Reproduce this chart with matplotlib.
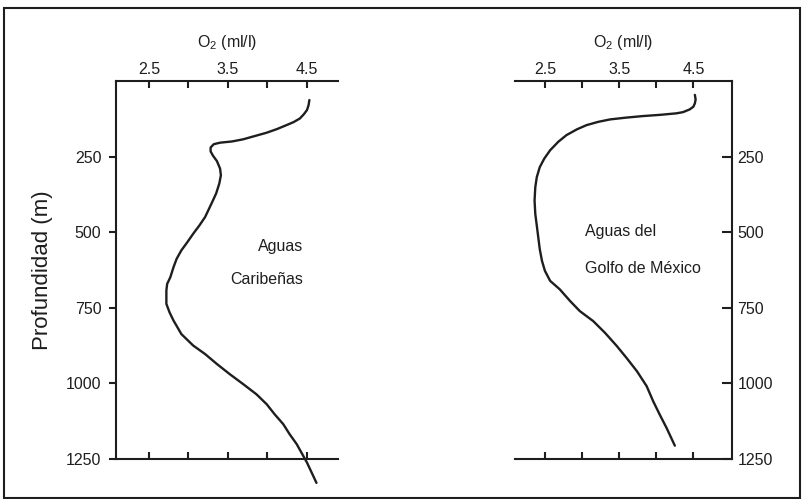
import matplotlib
matplotlib.use("Agg")
import matplotlib.pyplot as plt
from matplotlib.patches import Rectangle

plt.rcParams['font.family'] = ['Liberation Sans', 'DejaVu Sans']
plt.rcParams['mathtext.fontset'] = 'custom'
plt.rcParams['mathtext.rm'] = 'Liberation Sans'
plt.rcParams['mathtext.default'] = 'regular'

# Oxygen profile, Caribbean waters (O2 ml/l vs depth m)
carib_o2 = [4.53, 4.52, 4.50, 4.46, 4.41, 4.33, 4.24, 4.12, 3.99, 3.84, 3.69, 3.55,
            3.40, 3.32, 3.28, 3.28, 3.31, 3.36, 3.40, 3.41, 3.39, 3.35, 3.29, 3.21,
            3.14, 3.06, 2.98, 2.91, 2.85, 2.81, 2.77, 2.73, 2.72, 2.72, 2.72, 2.76,
            2.81, 2.91, 3.06, 3.21, 3.36, 3.52, 3.69, 3.86, 3.99, 4.09, 4.20, 4.28,
            4.37, 4.50, 4.62]
carib_depth = [63, 80, 96, 110, 124, 136, 146, 159, 171, 182, 193, 200,
               204, 209, 220, 233, 247, 265, 290, 312, 339, 372, 406, 450,
               477, 505, 535, 560, 588, 616, 649, 671, 693, 715, 737, 765,
               792, 837, 875, 903, 936, 969, 1002, 1036, 1069, 1102, 1135, 1168,
               1201, 1262, 1329]

# Oxygen profile, Gulf of Mexico waters
golfo_o2 = [4.52, 4.53, 4.52, 4.50, 4.45, 4.36, 4.27, 4.05, 3.82, 3.60, 3.38, 3.22,
            3.06, 2.93, 2.79, 2.68, 2.57, 2.49, 2.43, 2.39, 2.37, 2.36, 2.37, 2.39,
            2.41, 2.43, 2.46, 2.50, 2.57, 2.70, 2.84, 2.97, 3.15, 3.31, 3.47, 3.60,
            3.74, 3.87, 3.96, 4.05, 4.14, 4.25]
golfo_depth = [46, 61, 74, 85, 94, 103, 107, 112, 116, 121, 127, 135,
               146, 160, 179, 201, 229, 257, 285, 318, 351, 395, 440, 478,
               517, 556, 595, 628, 661, 689, 728, 761, 794, 833, 877, 916,
               960, 1009, 1060, 1105, 1148, 1206]

x_ticks = [2.5, 3.0, 3.5, 4.0, 4.5]
x_labels = ['2.5', '', '3.5', '', '4.5']
y_ticks = [250, 500, 750, 1000, 1250]
y_labels = ['250', '500', '750', '1000', '1250']

ink = '#1e1e1e'
fs = 11.5
line_kw = dict(color=ink, lw=1.7, solid_capstyle='round', solid_joinstyle='round')

fig = plt.figure(figsize=(8.02, 4.99), dpi=100)
ax1 = fig.add_axes([0.1446, 0.0802, 0.2768, 0.7575])
ax2 = fig.add_axes([0.6421, 0.0802, 0.2706, 0.7575])

# left panel
ax1.plot(carib_o2, carib_depth, clip_on=False, **line_kw)
ax1.set_xlim(2.082, 4.892)
ax1.set_ylim(1250, 0)
ax1.spines['right'].set_visible(False)
ax1.yaxis.set_ticks_position('left')
ax1.tick_params(axis='y', direction='out', length=5, width=1.5, pad=5.5,
                labelsize=fs, colors=ink)
ax1.set_ylabel('Profundidad (m)', fontsize=16, color=ink, labelpad=9)
ax1.text(4.45, 547, 'Aguas', ha='right', va='center', fontsize=fs, color=ink)
ax1.text(4.45, 656, 'Caribeñas', ha='right', va='center', fontsize=fs, color=ink)

# right panel
ax2.plot(golfo_o2, golfo_depth, **line_kw)
ax2.set_xlim(2.096, 5.02)
ax2.set_ylim(1250, 0)
ax2.spines['left'].set_visible(False)
ax2.yaxis.set_ticks_position('right')
ax2.yaxis.set_label_position('right')
ax2.tick_params(axis='y', direction='in', length=7, width=1.5, pad=4,
                labelsize=fs, colors=ink)
ax2.text(3.04, 498, 'Aguas del', ha='left', va='center', fontsize=fs, color=ink)
ax2.text(3.04, 621, 'Golfo de México', ha='left', va='center', fontsize=fs, color=ink)

for ax in (ax1, ax2):
    ax.set_yticks(y_ticks)
    ax.set_yticklabels(y_labels)
    ax.set_xticks(x_ticks)
    ax.set_xticklabels(x_labels)
    ax.tick_params(axis='x', which='both', direction='in', length=5, width=1.5,
                   top=True, bottom=True, labeltop=True, labelbottom=False,
                   pad=3, labelsize=fs, colors=ink)
    for s in ax.spines.values():
        s.set_linewidth(1.5)
        s.set_color(ink)
    ax.text(0.5, 1.103, r'O$_2$ (ml/l)', transform=ax.transAxes,
            ha='center', va='center', fontsize=fs, color=ink)

# outer frame
fig.patches.append(Rectangle((0.005, 0.002), 0.9925, 0.982, transform=fig.transFigure,
                             fill=False, lw=1.5, edgecolor=ink))

fig.savefig('out.png', dpi=100)
